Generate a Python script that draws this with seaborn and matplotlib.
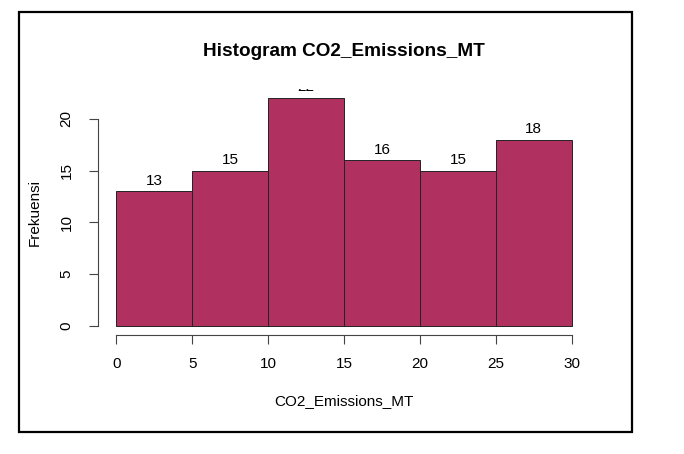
import matplotlib
matplotlib.use("Agg")
import matplotlib.pyplot as plt
import seaborn as sns
import numpy as np
from matplotlib.patches import Rectangle

# Data
bin_edges = [0, 5, 10, 15, 20, 25, 30]
counts = [13, 15, 22, 16, 15, 18]
x_ticks = [0, 5, 10, 15, 20, 25, 30]
y_ticks = [0, 5, 10, 15, 20]
title = "Histogram CO2_Emissions_MT"
xlabel = "CO2_Emissions_MT"
ylabel = "Frekuensi"

sns.set_theme(style="white")
plt.rcParams['font.family'] = ['Liberation Sans', 'DejaVu Sans']

W, H = 684, 454
fig = plt.figure(figsize=(W / 100, H / 100), dpi=100)
fig.patch.set_facecolor("white")

# outer frame
fig.add_artist(Rectangle((19 / W, 1 - 432 / H), (632 - 19) / W, (432 - 12) / H,
                         transform=fig.transFigure, fill=False,
                         edgecolor="black", linewidth=1.6))

ax = fig.add_axes([98 / W, 1 - 335 / H, 492 / W, 246 / H])
mids = [(bin_edges[i] + bin_edges[i + 1]) / 2 for i in range(len(counts))]
sns.histplot(x=mids, weights=counts, bins=bin_edges, ax=ax,
             color="#B03060", alpha=1, edgecolor="#222222", linewidth=0.7)

ax.set_xlim(-1.2, 31.2)
ax.set_ylim(-0.88, 22.88)
ax.set_facecolor("white")

for s in ["top", "right"]:
    ax.spines[s].set_visible(False)
ax.spines["left"].set_bounds(0, 20)
ax.spines["bottom"].set_bounds(0, 30)
for s in ["left", "bottom"]:
    ax.spines[s].set_color("#444444")
    ax.spines[s].set_linewidth(0.8)

ax.set_xticks(x_ticks)
ax.set_yticks(y_ticks)
ax.set_xticklabels([str(v) for v in x_ticks])
ax.set_yticklabels([str(v) for v in y_ticks], rotation=90, va="center")
ax.tick_params(axis="both", direction="out", length=6.5, width=0.8,
               color="#444444", labelsize=11, labelcolor="black", pad=9,
               bottom=True, left=True)
ax.tick_params(axis="y", pad=11)

ax.set_xlabel(xlabel, fontsize=11, labelpad=17, color="black")
ax.set_ylabel(ylabel, fontsize=11, labelpad=13, color="black")

for m, c in zip(mids, counts):
    t = ax.text(m, c + 0.35, str(c), ha="center", va="bottom", fontsize=11,
                color="black", clip_on=True)

fig.text(344 / W, 1 - 52 / H, title, ha="center", va="center",
         fontsize=13.7, fontweight="bold", color="black")

fig.savefig("out.png", dpi=100, facecolor="white")
